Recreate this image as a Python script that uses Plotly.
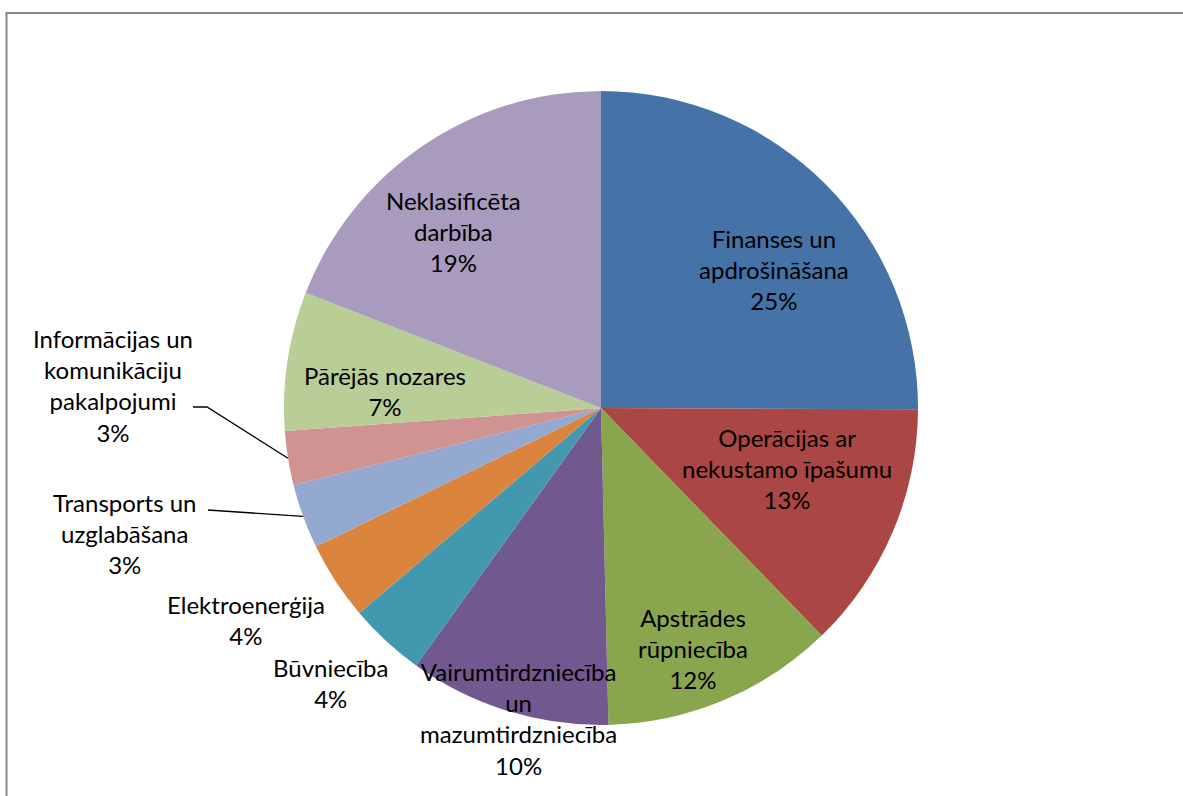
import math
import plotly.graph_objects as go

W, H = 1183, 796

labels = [
    "Finanses un<br>apdrošināšana",
    "Operācijas ar<br>nekustamo īpašumu",
    "Apstrādes<br>rūpniecība",
    "Vairumtirdzniecība<br>un<br>mazumtirdzniecība",
    "Būvniecība",
    "Elektroenerģija",
    "Transports un<br>uzglabāšana",
    "Informācijas un<br>komunikāciju<br>pakalpojumi",
    "Pārējās nozares",
    "Neklasificēta<br>darbība",
]
shares = [25.1, 12.7, 11.9, 10.3, 3.9, 4.0, 3.3, 2.75, 7.1, 19.1]
colors = ["#4572A7", "#AA4643", "#89A54E", "#71588F", "#4198AF",
          "#DB843D", "#93A9CF", "#D19392", "#B9CD96", "#A99BBD"]

# label centres in pixels (where Excel put them)
label_px = [(774, 269), (787, 468), (693, 648), (518, 718), (330, 683),
            (246, 620), (125, 533), (113, 385), (385, 391), (453, 232)]

# pie geometry in pixels
CX, CY, R = 601, 408, 317

def px(x, y):
    return x / W, 1 - y / H

total = sum(shares)

fig = go.Figure(
    go.Pie(
        labels=[l.replace("<br>", " ") for l in labels],
        values=shares,
        sort=False,
        direction="clockwise",
        rotation=0,
        marker=dict(colors=colors, line=dict(width=0)),
        textinfo="none",
        hoverinfo="label+percent",
        domain=dict(x=[(CX - R) / W, (CX + R) / W],
                    y=[1 - (CY + R) / H, 1 - (CY - R) / H]),
        showlegend=False,
    )
)

annotations = []
for lab, v, (lx, ly) in zip(labels, shares, label_px):
    x, y = px(lx, ly)
    annotations.append(dict(
        text=f"{lab}<br>{round(v / total * 100)}%",
        x=x, y=y, xref="paper", yref="paper",
        xanchor="center", yanchor="middle", showarrow=False,
        font=dict(family="Lato, Carlito, sans-serif", size=24, color="#000000"),
    ))

# leader lines for the two small outside slices, ending at slice mid-angle
def mid_point(i):
    start = sum(shares[:i]) / total * 360
    mid = math.radians(start + shares[i] / total * 180)
    return CX + R * math.sin(mid), CY - R * math.cos(mid)

shapes = []
leaders = {6: [(208, 510)], 7: [(193, 407), (207, 407)]}
for i, pts in leaders.items():
    ex, ey = mid_point(i)
    path = "M " + " L ".join(f"{px(a, b)[0]},{px(a, b)[1]}" for a, b in pts + [(ex, ey)])
    shapes.append(dict(type="path", path=path, xref="paper", yref="paper",
                       line=dict(color="#000000", width=1.3)))

# chart area frame (right and bottom edges fall outside the picture)
x0, y1 = px(6.5, 13)
shapes.append(dict(type="rect", xref="paper", yref="paper",
                   x0=x0, x1=1.05, y0=-0.05, y1=y1,
                   line=dict(color="#868686", width=2), layer="above"))

fig.update_layout(
    width=W, height=H,
    margin=dict(l=0, r=0, t=0, b=0),
    paper_bgcolor="#ffffff",
    plot_bgcolor="#ffffff",
    template="none",
    annotations=annotations,
    shapes=shapes,
)

fig.write_html(
    "out.html",
    config={"displayModeBar": False},
    post_script="document.body.style.margin='0';document.body.style.overflow='hidden';",
)
